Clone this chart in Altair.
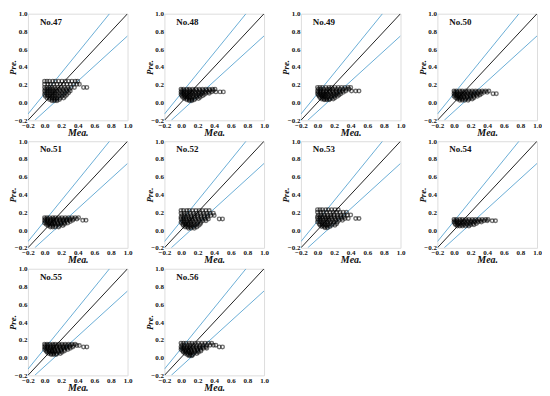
import altair as alt
import pandas as pd

panel_names = ["No.47", "No.48", "No.49", "No.50", "No.51",
               "No.52", "No.53", "No.54", "No.55", "No.56"]

# each panel: rows of (predicted value, [measured values])
p47 = [(0.240, [0.00, 0.03, 0.06, 0.10, 0.13, 0.17, 0.21, 0.25, 0.29, 0.33, 0.37, 0.40]),
       (0.205, [0.00, 0.04, 0.07, 0.11, 0.15, 0.19, 0.23, 0.27, 0.31, 0.35, 0.39, 0.42]),
       (0.170, [0.00, 0.03, 0.06, 0.09, 0.12, 0.16, 0.20, 0.24, 0.28, 0.32, 0.36, 0.47, 0.51]),
       (0.150, [0.01, 0.04, 0.07, 0.10, 0.14, 0.18, 0.22, 0.26, 0.30]),
       (0.130, [0.00, 0.03, 0.06, 0.09, 0.12, 0.15, 0.19, 0.23, 0.27, 0.31]),
       (0.110, [0.01, 0.04, 0.07, 0.10, 0.13, 0.17, 0.21, 0.25, 0.29]),
       (0.090, [0.00, 0.03, 0.06, 0.09, 0.12, 0.15, 0.19, 0.23, 0.27]),
       (0.070, [0.01, 0.04, 0.07, 0.10, 0.13, 0.17, 0.21, 0.25]),
       (0.050, [0.03, 0.06, 0.09, 0.12, 0.15, 0.19, 0.23]),
       (0.035, [0.06, 0.09, 0.12, 0.15, 0.18]),
       (0.020, [0.09, 0.12, 0.15])]
p48 = [(0.150, [0.00, 0.03, 0.07, 0.10, 0.14, 0.18, 0.22, 0.26, 0.30, 0.34, 0.38, 0.41]),
       (0.135, [0.01, 0.04, 0.08, 0.11, 0.15, 0.19, 0.23, 0.27, 0.31, 0.35, 0.39]),
       (0.120, [0.00, 0.03, 0.06, 0.10, 0.13, 0.17, 0.21, 0.25, 0.29, 0.33, 0.37, 0.42, 0.47, 0.51]),
       (0.105, [0.01, 0.04, 0.07, 0.11, 0.14, 0.18, 0.22, 0.26, 0.30, 0.34]),
       (0.090, [0.00, 0.03, 0.06, 0.09, 0.12, 0.16, 0.20, 0.24, 0.28]),
       (0.075, [0.01, 0.04, 0.07, 0.10, 0.14, 0.18, 0.22, 0.26]),
       (0.060, [0.02, 0.05, 0.08, 0.11, 0.15, 0.19, 0.23]),
       (0.045, [0.04, 0.07, 0.10, 0.13, 0.17, 0.21]),
       (0.030, [0.07, 0.10, 0.13, 0.16]),
       (0.020, [0.10, 0.13])]
p49 = [(0.170, [0.00, 0.03, 0.06, 0.10, 0.14, 0.17, 0.21, 0.25, 0.29, 0.33, 0.37, 0.40]),
       (0.150, [0.01, 0.04, 0.08, 0.12, 0.15, 0.19, 0.23, 0.27, 0.31, 0.35, 0.38]),
       (0.130, [0.00, 0.03, 0.07, 0.10, 0.14, 0.18, 0.22, 0.26, 0.30, 0.34, 0.41, 0.46, 0.50]),
       (0.115, [0.01, 0.04, 0.07, 0.11, 0.15, 0.19, 0.23, 0.27, 0.31]),
       (0.100, [0.00, 0.03, 0.06, 0.09, 0.12, 0.16, 0.20, 0.24, 0.28]),
       (0.085, [0.01, 0.04, 0.07, 0.10, 0.14, 0.18, 0.22, 0.26]),
       (0.070, [0.02, 0.05, 0.08, 0.12, 0.16, 0.20, 0.24]),
       (0.055, [0.03, 0.06, 0.10, 0.13, 0.17, 0.21]),
       (0.040, [0.05, 0.08, 0.11, 0.15, 0.19]),
       (0.030, [0.08, 0.11, 0.14])]
p50 = [(0.130, [0.00, 0.03, 0.07, 0.10, 0.14, 0.18, 0.22, 0.26, 0.30, 0.34, 0.38, 0.42]),
       (0.115, [0.01, 0.04, 0.08, 0.12, 0.16, 0.20, 0.24, 0.28, 0.32, 0.36, 0.40]),
       (0.100, [0.00, 0.03, 0.06, 0.10, 0.13, 0.17, 0.21, 0.25, 0.29, 0.33, 0.47, 0.51]),
       (0.085, [0.01, 0.04, 0.07, 0.11, 0.15, 0.19, 0.23, 0.27, 0.31]),
       (0.070, [0.00, 0.03, 0.06, 0.09, 0.12, 0.16, 0.20, 0.24, 0.28]),
       (0.055, [0.02, 0.05, 0.08, 0.12, 0.16, 0.20, 0.24]),
       (0.040, [0.04, 0.07, 0.10, 0.14, 0.18, 0.22]),
       (0.025, [0.07, 0.10, 0.13, 0.17])]
p51 = [(0.140, [0.00, 0.03, 0.06, 0.10, 0.13, 0.17, 0.21, 0.25, 0.29, 0.33, 0.37, 0.41]),
       (0.125, [0.01, 0.04, 0.08, 0.11, 0.15, 0.19, 0.23, 0.27, 0.31, 0.35, 0.39]),
       (0.110, [0.00, 0.03, 0.07, 0.10, 0.14, 0.18, 0.22, 0.26, 0.30, 0.34, 0.46, 0.50]),
       (0.095, [0.01, 0.04, 0.07, 0.11, 0.15, 0.19, 0.23, 0.27, 0.31]),
       (0.080, [0.00, 0.03, 0.06, 0.09, 0.12, 0.16, 0.20, 0.24, 0.28]),
       (0.065, [0.02, 0.05, 0.09, 0.12, 0.16, 0.20, 0.24]),
       (0.050, [0.04, 0.07, 0.10, 0.14, 0.18, 0.22]),
       (0.035, [0.07, 0.10, 0.13, 0.17])]
p52 = [(0.220, [0.00, 0.03, 0.07, 0.10, 0.14, 0.18, 0.22, 0.26, 0.30, 0.34]),
       (0.190, [0.00, 0.04, 0.07, 0.11, 0.15, 0.19, 0.23, 0.27, 0.31, 0.35, 0.39]),
       (0.165, [0.01, 0.04, 0.08, 0.12, 0.16, 0.20, 0.24, 0.28, 0.32, 0.36, 0.40]),
       (0.145, [0.00, 0.03, 0.06, 0.09, 0.12, 0.16, 0.20, 0.24, 0.28, 0.32]),
       (0.125, [0.00, 0.03, 0.06, 0.10, 0.13, 0.17, 0.21, 0.25, 0.29, 0.33, 0.46, 0.50]),
       (0.105, [0.01, 0.04, 0.07, 0.11, 0.14, 0.18, 0.22, 0.26, 0.30]),
       (0.085, [0.00, 0.03, 0.06, 0.09, 0.12, 0.16, 0.20, 0.24]),
       (0.065, [0.02, 0.05, 0.08, 0.12, 0.15, 0.19, 0.23]),
       (0.050, [0.03, 0.06, 0.10, 0.13, 0.17, 0.21]),
       (0.035, [0.05, 0.08, 0.11, 0.15, 0.19]),
       (0.020, [0.09, 0.12, 0.16])]
p53 = [(0.230, [0.00, 0.03, 0.06, 0.10, 0.13, 0.17, 0.21, 0.25]),
       (0.200, [0.00, 0.04, 0.07, 0.11, 0.15, 0.19, 0.23, 0.27, 0.31, 0.35]),
       (0.170, [0.01, 0.04, 0.08, 0.12, 0.16, 0.20, 0.24, 0.28, 0.32, 0.36, 0.40]),
       (0.150, [0.00, 0.03, 0.06, 0.09, 0.12, 0.16, 0.20, 0.24, 0.28, 0.32]),
       (0.130, [0.00, 0.03, 0.06, 0.10, 0.13, 0.17, 0.21, 0.25, 0.29, 0.33, 0.37, 0.46, 0.50]),
       (0.110, [0.01, 0.04, 0.07, 0.11, 0.14, 0.18, 0.22, 0.26, 0.30]),
       (0.090, [0.00, 0.03, 0.06, 0.09, 0.12, 0.16, 0.20, 0.24]),
       (0.070, [0.02, 0.05, 0.08, 0.12, 0.15, 0.19, 0.23]),
       (0.055, [0.03, 0.06, 0.10, 0.13, 0.17, 0.21]),
       (0.040, [0.05, 0.08, 0.11, 0.15]),
       (0.025, [0.09, 0.12])]
p54 = [(0.120, [0.00, 0.03, 0.07, 0.10, 0.14, 0.18, 0.22, 0.26, 0.30, 0.34, 0.38, 0.41]),
       (0.105, [0.01, 0.04, 0.08, 0.12, 0.16, 0.20, 0.24, 0.28, 0.32, 0.36, 0.40, 0.46, 0.50]),
       (0.090, [0.00, 0.03, 0.06, 0.10, 0.13, 0.17, 0.21, 0.25, 0.29, 0.33]),
       (0.075, [0.01, 0.04, 0.07, 0.11, 0.15, 0.19, 0.23, 0.27]),
       (0.060, [0.02, 0.05, 0.09, 0.12, 0.16, 0.20, 0.24]),
       (0.045, [0.04, 0.07, 0.10, 0.14, 0.18])]
p55 = [(0.150, [0.00, 0.03, 0.06, 0.10, 0.13, 0.17, 0.21, 0.25, 0.29, 0.33, 0.37]),
       (0.135, [0.01, 0.04, 0.08, 0.11, 0.15, 0.19, 0.23, 0.27, 0.31, 0.35, 0.39, 0.42]),
       (0.120, [0.00, 0.03, 0.07, 0.10, 0.14, 0.18, 0.22, 0.26, 0.30, 0.34, 0.47, 0.51]),
       (0.105, [0.01, 0.04, 0.07, 0.11, 0.15, 0.19, 0.23, 0.27, 0.31]),
       (0.090, [0.00, 0.03, 0.06, 0.09, 0.12, 0.16, 0.20, 0.24, 0.28]),
       (0.075, [0.02, 0.05, 0.09, 0.12, 0.16, 0.20, 0.24]),
       (0.060, [0.03, 0.06, 0.10, 0.13, 0.17, 0.21]),
       (0.045, [0.05, 0.08, 0.11, 0.15, 0.19]),
       (0.035, [0.08, 0.11, 0.14])]
p56 = [(0.160, [0.00, 0.03, 0.06, 0.10, 0.13, 0.17, 0.21, 0.25, 0.29, 0.33, 0.37]),
       (0.140, [0.01, 0.04, 0.08, 0.11, 0.15, 0.19, 0.23, 0.27, 0.31, 0.35, 0.39, 0.42]),
       (0.120, [0.00, 0.03, 0.07, 0.10, 0.14, 0.18, 0.22, 0.26, 0.30, 0.46, 0.50]),
       (0.105, [0.01, 0.04, 0.07, 0.11, 0.15, 0.19, 0.23, 0.27, 0.31]),
       (0.090, [0.00, 0.03, 0.06, 0.09, 0.12, 0.16, 0.20, 0.24]),
       (0.075, [0.02, 0.05, 0.09, 0.12, 0.16, 0.20, 0.24]),
       (0.060, [0.03, 0.06, 0.10, 0.13, 0.17, 0.21]),
       (0.045, [0.05, 0.08, 0.11, 0.15, 0.19]),
       (0.030, [0.08, 0.11, 0.14]),
       (0.020, [0.10, 0.13])]
panel_rows = [p47, p48, p49, p50, p51, p52, p53, p54, p55, p56]

# reference lines: (name, slope, intercept)
ref_lines = [("one", 1.0, 0.0), ("upper", 1.15, 0.10), ("lower", 0.85, -0.10)]
axis_min, axis_max = -0.2, 1.0
tick_values = [-0.2, 0.0, 0.2, 0.4, 0.6, 0.8, 1.0]

line_records = []
for name, m, b in ref_lines:
    x0 = max(axis_min, (axis_min - b) / m)
    x1 = min(axis_max, (axis_max - b) / m)
    line_records.append({"kind": name, "x": x0, "y": m * x0 + b, "o": 0})
    line_records.append({"kind": name, "x": x1, "y": m * x1 + b, "o": 1})
lines_df = pd.DataFrame(line_records)

FONT = "Liberation Serif"


def make_axis(title, extent, tpad, lpad, tsize):
    return alt.Axis(values=tick_values, format=".1f", title=title,
                    labelFont=FONT, labelFontSize=7, labelFontWeight="bold",
                    labelColor="#111", titleFont=FONT, titleFontSize=tsize,
                    titleFontStyle="italic", titleFontWeight="bold",
                    titleColor="#111", titlePadding=tpad, labelPadding=lpad,
                    ticks=False, domain=False, grid=False, labelFlush=False,
                    labelOverlap=False, minExtent=extent, maxExtent=extent)


charts = []
for name, rows in zip(panel_names, panel_rows):
    recs = [{"x": xv, "y": yv} for yv, xs in rows for xv in xs]
    pts_df = pd.DataFrame(recs)
    xsc = alt.Scale(domain=[axis_min, axis_max], nice=False, zero=False)
    ysc = alt.Scale(domain=[axis_min, axis_max], nice=False, zero=False)
    xax = make_axis("Mea.", 7, 0, 1, 10)
    yax = make_axis("Pre.", 10, 0, 1, 9)
    lines = alt.Chart(lines_df).mark_line(strokeWidth=1, clip=True).encode(
        x=alt.X("x:Q", scale=xsc, axis=xax),
        y=alt.Y("y:Q", scale=ysc, axis=yax),
        detail="kind:N",
        order="o:Q",
        color=alt.Color("kind:N", legend=None,
                        scale=alt.Scale(domain=["one", "upper", "lower"],
                                        range=["#222222", "#6aaed6", "#6aaed6"])),
    )
    pts = alt.Chart(pts_df).mark_point(shape="circle", filled=False, size=13,
                                       strokeWidth=1.4, color="#000000",
                                       opacity=0.55).encode(
        x=alt.X("x:Q", scale=xsc, axis=xax),
        y=alt.Y("y:Q", scale=ysc, axis=yax),
    )
    txt = alt.Chart(pd.DataFrame({"t": [name]})).mark_text(
        align="left", baseline="middle", font=FONT, fontSize=9,
        fontWeight="bold", color="#111").encode(
        x=alt.value(12), y=alt.value(8), text="t:N")
    charts.append(alt.layer(lines, pts, txt).properties(width=100, height=107))

chart = alt.concat(*charts, columns=4, spacing={"row": 21, "column": 37},
                   bounds="flush").properties(
    padding={"left": 0, "top": 0, "right": 0, "bottom": 0}
).configure_view(stroke="#a0a0a0", strokeWidth=1).configure(background="white")

chart.save("out.html", embed_options={"renderer": "svg", "actions": False})
